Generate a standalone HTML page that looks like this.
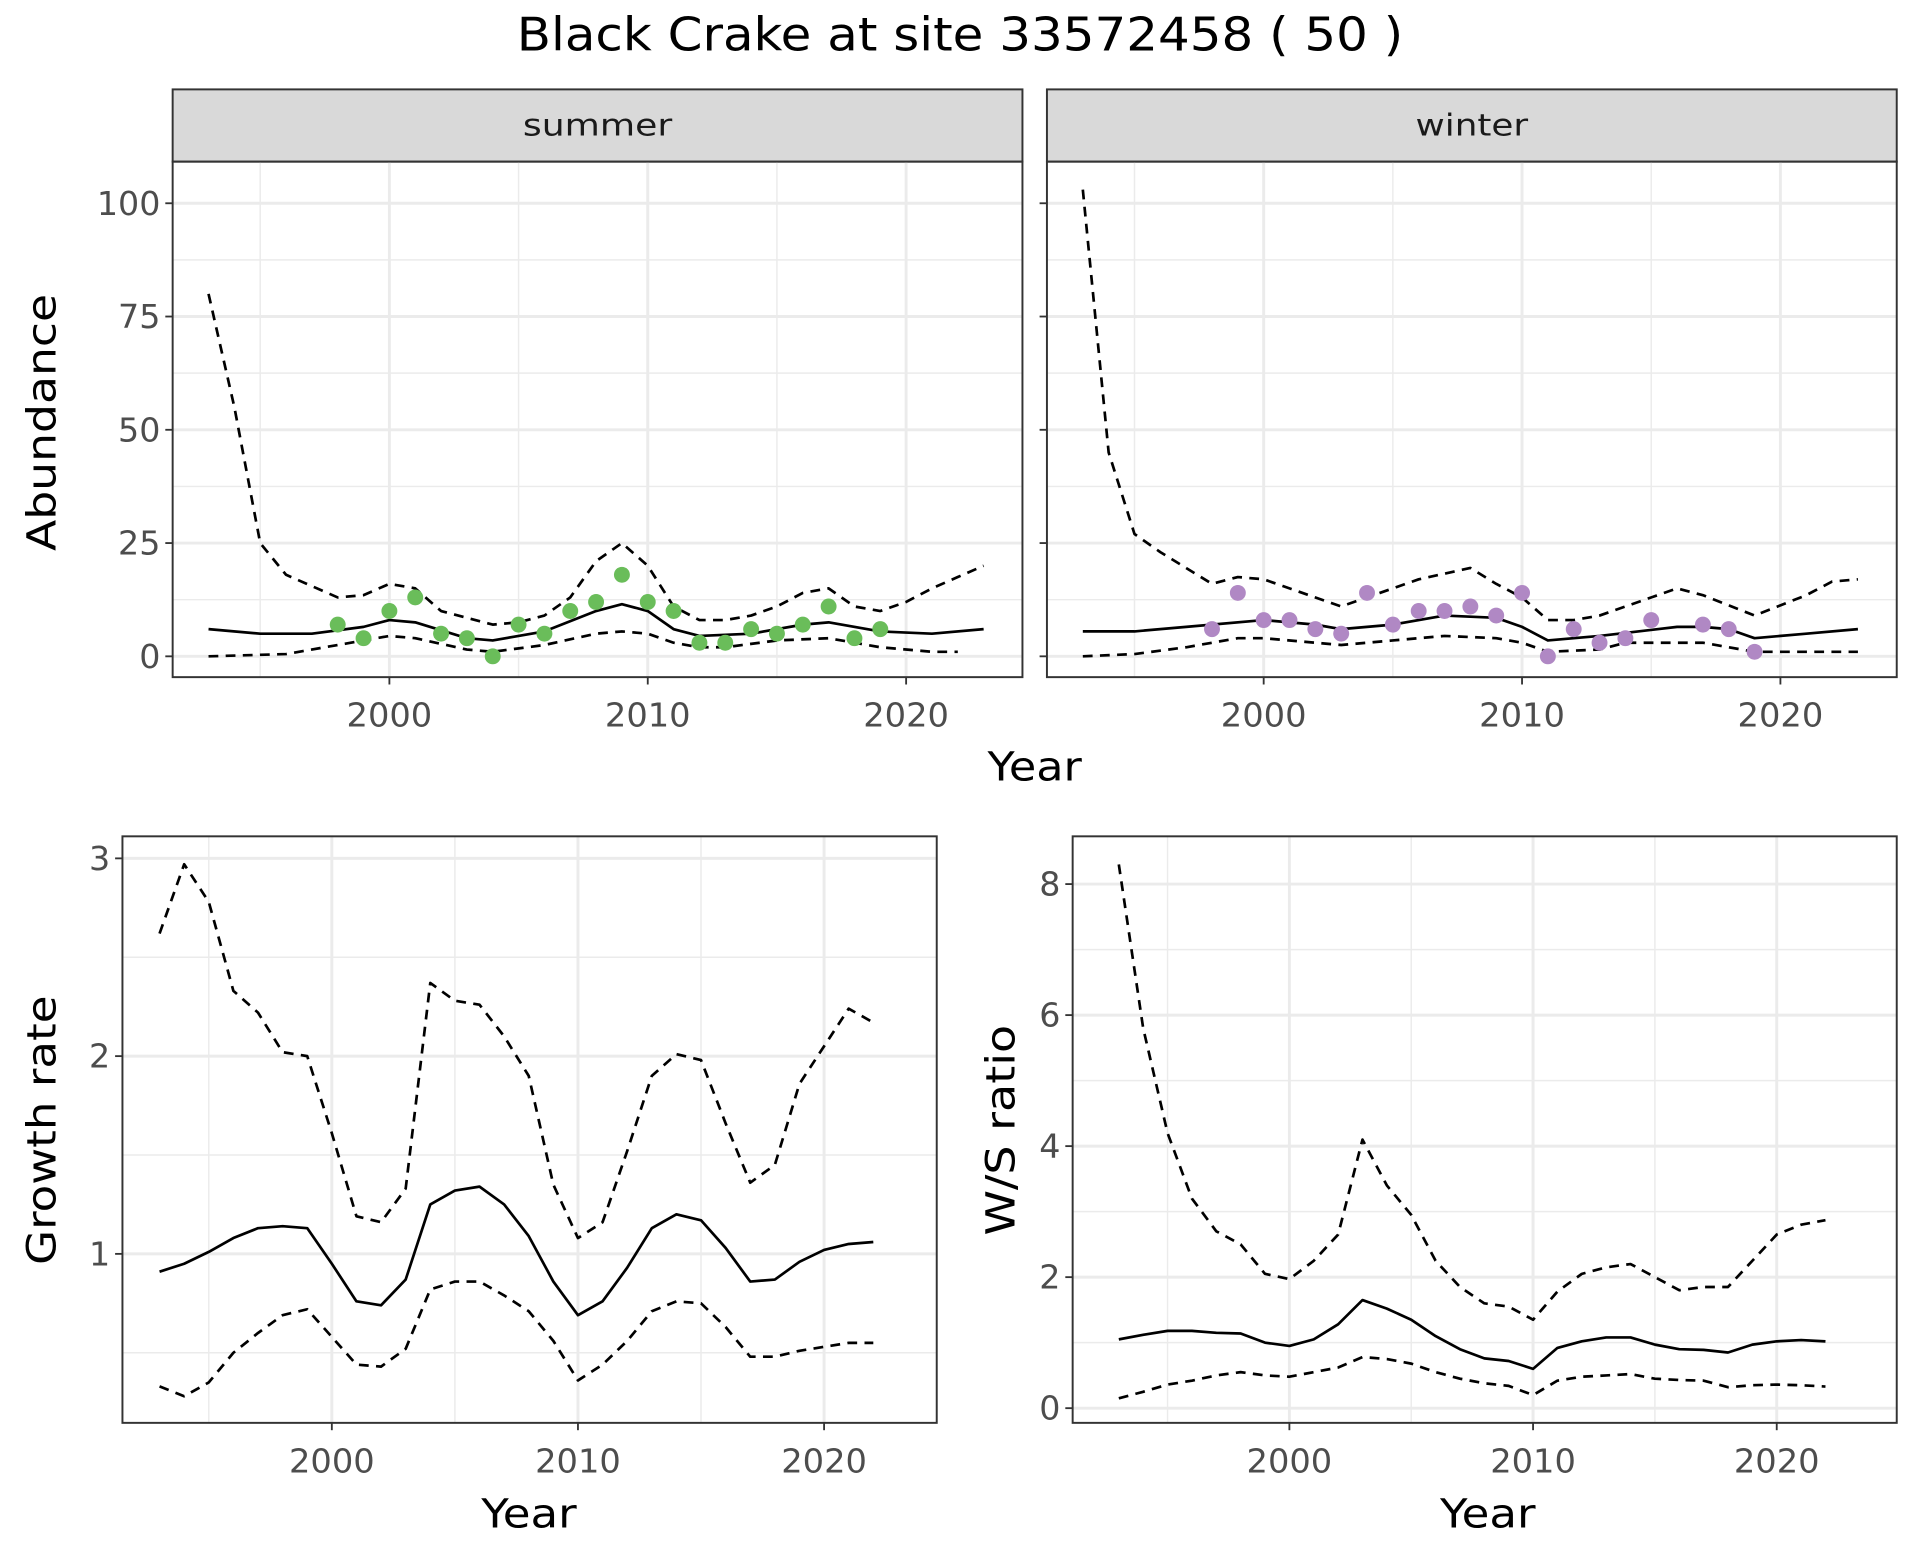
<!DOCTYPE html>
<html><head><meta charset="utf-8"><style>
html,body{margin:0;padding:0;background:#fff;}
svg{display:block;}
text{font-family:"DejaVu Sans","Liberation Sans",sans-serif;dominant-baseline:central;}
</style></head><body>
<svg id="s" width="1920" height="1560" viewBox="0 0 1568 1274" xmlns="http://www.w3.org/2000/svg"></svg>
<script>
const S=document.getElementById('s');let h='';
const T=(x,y,s,txt,len,anchor,fill,extra)=>`<text x="${x}" y="${y}" font-size="${s}" text-anchor="${anchor||'middle'}" fill="${fill||'#000'}" textLength="${len}" lengthAdjust="spacingAndGlyphs" ${extra||''}>${txt}</text>`;
h+='<rect width="1568" height="1274" fill="#fff"/>';
h+=T(784,28,38,'Black Crake at site 33572458 ( 50 )',724);
function panel(o){
 const {x0,x1,y0,y1,X,Y}=o;
 o.ymin.forEach(v=>{const y=Y(v);h+=`<line x1="${x0}" x2="${x1}" y1="${y}" y2="${y}" stroke="#ebebeb" stroke-width="1.2"/>`;});
 [1995,2005,2015].forEach(v=>{const x=X(v);h+=`<line x1="${x}" x2="${x}" y1="${y0}" y2="${y1}" stroke="#ebebeb" stroke-width="1.2"/>`;});
 o.yt.forEach(v=>{const y=Y(v);h+=`<line x1="${x0}" x2="${x1}" y1="${y}" y2="${y}" stroke="#ebebeb" stroke-width="2.4"/>`;});
 [2000,2010,2020].forEach(v=>{const x=X(v);h+=`<line x1="${x}" x2="${x}" y1="${y0}" y2="${y1}" stroke="#ebebeb" stroke-width="2.4"/>`;});
 const line=(d,dash)=>{h+=`<polyline fill="none" stroke="#000" stroke-width="2.2" stroke-linejoin="round" ${dash?'stroke-dasharray="8,6"':''} points="${d.map(p=>X(p[0])+','+Y(p[1])).join(' ')}"/>`;};
 line(o.up,1);line(o.lo,1);line(o.mean,0);
 if(o.pts)o.pts.forEach(p=>{h+=`<circle cx="${X(p[0])}" cy="${Y(p[1])}" r="6.5" fill="${o.col}"/>`;});
 h+=`<rect x="${x0}" y="${y0}" width="${x1-x0}" height="${y1-y0}" fill="none" stroke="#333" stroke-width="1.6"/>`;
 o.yt.forEach((v,i)=>{const y=Y(v);h+=`<line x1="${x0-6}" x2="${x0}" y1="${y}" y2="${y}" stroke="#333" stroke-width="1.5"/>`;
  if(o.ylab)h+=T(x0-10,y,27,o.ylab[i],o.ylab[i].length*17.3,'end','#4d4d4d');});
 [2000,2010,2020].forEach(v=>{const x=X(v);h+=`<line x1="${x}" x2="${x}" y1="${y1}" y2="${y1+6}" stroke="#333" stroke-width="1.5"/>`+T(x,y1+31,27,v,70,'middle','#4d4d4d');});
}
const P=a=>{const r=[];for(let i=0;i<a.length;i+=2)r.push([a[i],a[i+1]]);return r;};
const ser=(s,a)=>a.map((v,i)=>[s+i,v]);
const sMean=P([1993,6,1995,5,1997,5,1999,6.5,2000,8,2001,7.5,2003,4,2004,3.5,2006,5.5,2008,10,2009,11.5,2010,10,2011,6,2012,4.5,2014,5,2016,7,2017,7.5,2019,5.5,2021,5,2023,6]);
const sUp=P([1993,80,1994,55,1995,25,1996,18,1998,13,1999,13.5,2000,16,2001,15,2002,10,2004,7,2005,7.5,2006,9,2007,13,2008,21,2009,25,2010,20,2011,11,2012,8,2013,8,2014,9,2015,11,2016,14,2017,15,2018,11,2019,10,2020,12,2021,15,2022,17.5,2023,20]);
const sLo=P([1993,0,1996,0.5,1998,2.5,2000,4.5,2001,4,2003,1.5,2004,1,2006,2.5,2008,5,2009,5.5,2010,5,2011,3,2012,2,2013,2,2015,3.5,2017,4,2019,2,2021,1,2022,1]);
const sPts=P([1998,7,1999,4,2000,10,2001,13,2002,5,2003,4,2004,0,2005,7,2006,5,2007,10,2008,12,2009,18,2010,12,2011,10,2012,3,2013,3,2014,6,2015,5,2016,7,2017,11,2018,4,2019,6]);
const wMean=P([1993,5.5,1995,5.5,1997,6.5,2000,8,2002,7,2003,6,2005,7,2007,9,2009,8.5,2010,6.5,2011,3.5,2013,4.5,2016,6.5,2017,6.5,2018,6,2019,4,2021,5,2023,6]);
const wUp=P([1993,103,1994,45,1995,27,1996,23,1998,16,1999,17.5,2000,17,2001,15,2003,11,2004,13,2006,17,2008,19.5,2009,16,2010,13,2011,8,2012,8,2013,9,2014,11,2016,15,2017,13.5,2019,9,2021,13.5,2022,16.5,2023,17]);
const wLo=P([1993,0,1995,0.5,1997,2,1999,4,2000,4,2003,2.5,2005,3.5,2007,4.5,2009,4,2010,3,2011,1,2013,1.5,2014,3,2017,3,2019,1,2023,1]);
const wPts=P([1998,6,1999,14,2000,8,2001,8,2002,6,2003,5,2004,14,2005,7,2006,10,2007,10,2008,11,2009,9,2010,14,2011,0,2012,6,2013,3,2014,4,2015,8,2017,7,2018,6,2019,1]);
const Yt=v=>536-v*3.7;
[[141,835,318,'summer',sMean,sUp,sLo,sPts,'#6abd5a',['0','25','50','75','100'],122],[855,1549,1032,'winter',wMean,wUp,wLo,wPts,'#b088c4',null,92]].forEach(c=>{
 h+=`<rect x="${c[0]}" y="73" width="${c[1]-c[0]}" height="59" fill="#d9d9d9" stroke="#333" stroke-width="1.6"/>`+T((c[0]+c[1])/2,103,25,c[3],c[10],'middle','#1a1a1a');
 panel({x0:c[0],x1:c[1],y0:132,y1:553,X:v=>c[2]+(v-2000)*21.1,Y:Yt,yt:[0,25,50,75,100],ymin:[12.5,37.5,62.5,87.5],mean:c[4],up:c[5],lo:c[6],pts:c[7],col:c[8],ylab:c[9]});
});
h+=T(845,626,33,'Year',77);
h+=T(34,345,33,'Abundance',210,'middle','#000','transform="rotate(-90 34 345)"');
panel({x0:100,x1:765,y0:683,y1:1162,X:v=>271+(v-2000)*20.1,Y:v=>1024-(v-1)*161.5,yt:[1,2,3],ymin:[0.5,1.5,2.5],ylab:['1','2','3'],
 mean:ser(1993,[.91,.95,1.01,1.08,1.13,1.14,1.13,.95,.76,.74,.87,1.25,1.32,1.34,1.25,1.09,.86,.69,.76,.93,1.13,1.20,1.17,1.03,.86,.87,.96,1.02,1.05,1.06]),
 up:ser(1993,[2.62,2.97,2.78,2.33,2.22,2.02,2.0,1.61,1.19,1.16,1.33,2.37,2.28,2.26,2.10,1.90,1.35,1.08,1.16,1.52,1.90,2.01,1.98,1.66,1.36,1.45,1.86,2.05,2.24,2.17]),
 lo:ser(1993,[.33,.28,.35,.50,.60,.69,.72,.58,.44,.43,.52,.82,.86,.86,.79,.71,.56,.36,.44,.56,.71,.76,.75,.63,.48,.48,.51,.53,.55,.55])});
h+=T(432,1236,33,'Year',78);
h+=T(34,923,33,'Growth rate',220,'middle','#000','transform="rotate(-90 34 923)"');
panel({x0:876,x1:1549,y0:683,y1:1162,X:v=>1053+(v-2000)*19.9,Y:v=>1150-v*53.5,yt:[0,2,4,6,8],ymin:[1,3,5,7],ylab:['0','2','4','6','8'],
 mean:ser(1993,[1.05,1.12,1.18,1.18,1.15,1.14,1.0,.95,1.05,1.28,1.65,1.52,1.35,1.1,.9,.76,.72,.6,.92,1.02,1.08,1.08,.97,.9,.89,.85,.97,1.02,1.04,1.02]),
 up:ser(1993,[8.3,5.8,4.2,3.2,2.7,2.5,2.05,1.97,2.25,2.65,4.1,3.4,2.95,2.25,1.85,1.6,1.55,1.35,1.78,2.05,2.15,2.2,2.0,1.8,1.85,1.85,2.25,2.65,2.8,2.87]),
 lo:ser(1993,[.15,.25,.36,.42,.5,.55,.5,.48,.55,.62,.78,.75,.68,.55,.45,.38,.34,.2,.42,.48,.5,.52,.45,.43,.42,.32,.35,.36,.35,.33])});
h+=T(1215,1236,33,'Year',78);
h+=T(817,923,33,'W/S ratio',172,'middle','#000','transform="rotate(-90 817 923)"');
S.innerHTML=h;
</script>
</body></html>
